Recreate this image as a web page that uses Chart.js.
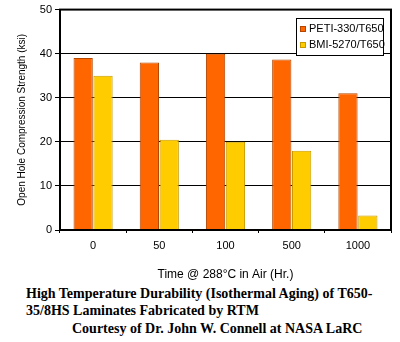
<!DOCTYPE html>
<html>
<head>
<meta charset="utf-8">
<script src="https://cdn.jsdelivr.net/npm/chart.js@4"></script>
<style>
  html, body { margin: 0; padding: 0; background: #fff; }
  #wrap { position: relative; width: 400px; height: 342px; overflow: hidden; }
  #chartBox { position: absolute; left: 0; top: 0; width: 400px; height: 282px; }
  .cap { position: absolute; font-family: "Liberation Serif", "Times New Roman", serif; font-weight: bold; font-size: 14px; color: #000; white-space: nowrap; }
</style>
</head>
<body>
<div id="wrap">
  <div id="chartBox"><canvas id="chart" width="400" height="282"></canvas></div>
  <div class="cap" style="left:26px; top:286px;">High Temperature Durability (Isothermal Aging) of T650-</div>
  <div class="cap" style="left:26px; top:303px;">35/8HS Laminates Fabricated by RTM</div>
  <div class="cap" style="left:72px; top:321px;">Courtesy of Dr. John W. Connell at NASA LaRC</div>
</div>
<script>
// --- DATA ---
const categories = ['0', '50', '100', '500', '1000'];
const petiValues = [39, 38, 40, 38.7, 31];
const bmiValues = [35, 20.5, 20, 18, 3.3];
const yTicks = [0, 10, 20, 30, 40, 50];

// --- LEGEND + FRAME PLUGIN ---
const framePlugin = {
    id: 'frame',
    afterDraw(chart) {
        const c = chart.ctx;
        const a = chart.chartArea;
        c.save();
        c.strokeStyle = '#000';
        c.lineWidth = 2;
        c.strokeRect(a.left, a.top, a.right - a.left, a.bottom - a.top);

        // legend box inside plot
        const lx = 296, ly = 18, lw = 87, lh = 37;
        c.fillStyle = '#fff';
        c.fillRect(lx, ly, lw, lh);
        c.lineWidth = 1;
        c.strokeRect(lx + 0.5, ly + 0.5, lw, lh);
        c.font = '11px "Liberation Sans", Arial, sans-serif';
        c.textBaseline = 'middle';
        chart.data.datasets.forEach((ds, i) => {
            const y = ly + 11 + i * 16;
            c.fillStyle = ds.backgroundColor;
            c.fillRect(lx + 4, y - 3, 6, 6);
            c.strokeStyle = ds.borderColor;
            c.strokeRect(lx + 4.5, y - 2.5, 5, 5);
            c.fillStyle = '#000';
            c.fillText(ds.label, lx + 13, y);
        });
        c.restore();
    }
};

new Chart(document.getElementById('chart').getContext('2d'), {
    type: 'bar',
    data: {
        labels: categories,
        datasets: [
            { label: 'PETI-330/T650', data: petiValues, backgroundColor: '#FF6600', borderColor: '#B34700', borderWidth: 1 },
            { label: 'BMI-5270/T650', data: bmiValues, backgroundColor: '#FFCC00', borderColor: '#C89A00', borderWidth: 1 }
        ]
    },
    options: {
        responsive: false,
        animation: false,
        layout: { padding: { left: 0, right: 9, top: 5, bottom: 0 } },
        datasets: { bar: { categoryPercentage: 0.6, barPercentage: 0.97 } },
        plugins: { legend: { display: false }, tooltip: { enabled: false } },
        scales: {
            x: {
                offset: true,
                afterFit(s) { s.height = 52; },
                grid: { display: true, drawOnChartArea: false, offset: true, color: '#000', tickLength: 3 },
                border: { display: false },
                ticks: { color: '#000', font: { family: '"Liberation Sans", Arial, sans-serif', size: 11 }, padding: 6 },
                title: { display: true, text: 'Time @ 288°C in Air (Hr.)', color: '#000', font: { family: '"Liberation Sans", Arial, sans-serif', size: 12 }, padding: { top: 14, bottom: 0 } }
            },
            y: {
                min: 0, max: 50,
                afterFit(s) { s.width = 60; },
                afterBuildTicks(s) { s.ticks = yTicks.map(v => ({ value: v })); },
                grid: { color: '#000', lineWidth: 1, tickLength: 5 },
                border: { display: false },
                ticks: { color: '#000', font: { family: '"Liberation Sans", Arial, sans-serif', size: 11 }, padding: 3 },
                title: { display: true, text: 'Open Hole Compression Strength (ksi)', color: '#000', font: { family: '"Liberation Sans", Arial, sans-serif', size: 10 }, padding: { top: 16, bottom: 4 } }
            }
        }
    },
    plugins: [framePlugin]
});
</script>
</body>
</html>
